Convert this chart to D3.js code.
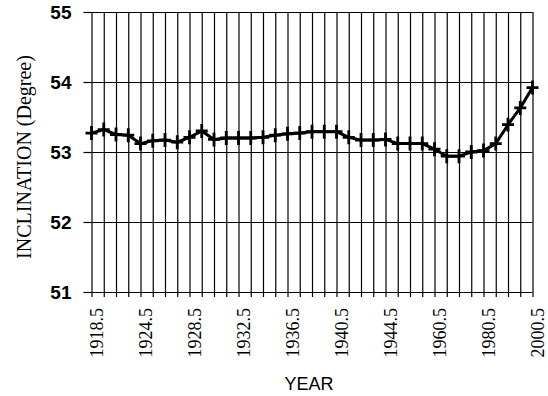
<!DOCTYPE html>
<html>
<head>
<meta charset="utf-8">
<script src="https://cdn.jsdelivr.net/npm/d3@7"></script>
<style>
  body { margin: 0; background: #fff; }
  svg { display: block; }
  .grid line { stroke: #000; stroke-width: 1.2; }
  .grid path { display: none; }
  .axis path { display: none; }
  .axis line { stroke: #000; stroke-width: 1.2; }
</style>
</head>
<body>
<svg width="548" height="396"></svg>
<script>
// inclination (degree) at each year point, left to right
var inclination = [53.27, 53.32, 53.25, 53.24, 53.12, 53.16, 53.17, 53.14, 53.21, 53.30,
                   53.18, 53.20, 53.20, 53.20, 53.21, 53.24, 53.26, 53.27, 53.29, 53.29,
                   53.29, 53.21, 53.17, 53.17, 53.18, 53.12, 53.12, 53.12, 53.04, 52.94,
                   52.94, 53.00, 53.02, 53.12, 53.39, 53.63, 53.92];
// labels shown on every 4th point
var tickLabels = ["1918.5", "1924.5", "1928.5", "1932.5", "1936.5",
                  "1940.5", "1944.5", "1960.5", "1980.5", "2000.5"];
var yTicks = [51, 52, 53, 54, 55];

var categories = d3.range(inclination.length);

var svg = d3.select("svg");
var plotL = 91.5, plotR = 532.5, plotT = 12, plotB = 292;

var x = d3.scalePoint().domain(categories).range([plotL, plotR]);
var y = d3.scaleLinear().domain([51, 55]).range([plotB, plotT]);

// vertical grid
svg.append("g").attr("class", "grid")
   .attr("transform", "translate(0," + plotB + ")")
   .call(d3.axisBottom(x).tickSize(-(plotB - plotT)).tickFormat(""));

// horizontal grid
svg.append("g").attr("class", "grid")
   .attr("transform", "translate(" + plotL + ",0)")
   .call(d3.axisLeft(y).tickValues(yTicks).tickSize(-(plotR - plotL)).tickFormat(""));

// x axis ticks and labels
var xa = svg.append("g").attr("class", "axis")
   .attr("transform", "translate(0," + plotB + ")")
   .call(d3.axisBottom(x).tickSize(5)
         .tickFormat(function(d){ return d % 4 == 0 ? tickLabels[d / 4] : ""; }));
xa.selectAll("text")
  .attr("x", -16).attr("y", 0).attr("dy", "0.34em")
  .attr("transform", "translate(4.5,0) rotate(-90)")
  .attr("text-anchor", "end")
  .style("font-family", "'Liberation Serif', 'Times New Roman', serif")
  .style("font-size", "18px")
  .attr("fill", "#000");

// y axis ticks and labels
var ya = svg.append("g").attr("class", "axis")
   .attr("transform", "translate(" + plotL + ",0)")
   .call(d3.axisLeft(y).tickValues(yTicks).tickSize(8).tickPadding(12).tickFormat(d3.format("d")));
ya.selectAll("text")
  .style("font-family", "'Liberation Sans', Arial, sans-serif")
  .style("font-size", "19px")
  .style("font-weight", "bold")
  .attr("fill", "#000");

// line
var line = d3.line()
  .x(function(d, i){ return x(i); })
  .y(function(d){ return y(d); });

svg.append("path")
   .datum(inclination)
   .attr("d", line)
   .attr("fill", "none")
   .attr("stroke", "#000")
   .attr("stroke-width", 3)
   .attr("stroke-linejoin", "round");

// plus markers
svg.selectAll(".mark").data(inclination)
   .enter()
   .append("path")
   .attr("class", "mark")
   .attr("transform", function(d, i){ return "translate(" + x(i) + "," + y(d) + ")"; })
   .attr("d", "M-6,0H6M0,-7V7")
   .attr("stroke", "#000")
   .attr("stroke-width", 2.8)
   .attr("fill", "none");

// axis titles
svg.append("text")
   .attr("transform", "translate(31,157) rotate(-90)")
   .attr("text-anchor", "middle")
   .style("font-family", "'Liberation Serif', 'Times New Roman', serif")
   .style("font-size", "20px")
   .text("INCLINATION (Degree)");

svg.append("text")
   .attr("x", 309).attr("y", 390)
   .attr("text-anchor", "middle")
   .style("font-family", "'Liberation Sans', Arial, sans-serif")
   .style("font-size", "18px")
   .text("YEAR");
</script>
</body>
</html>
